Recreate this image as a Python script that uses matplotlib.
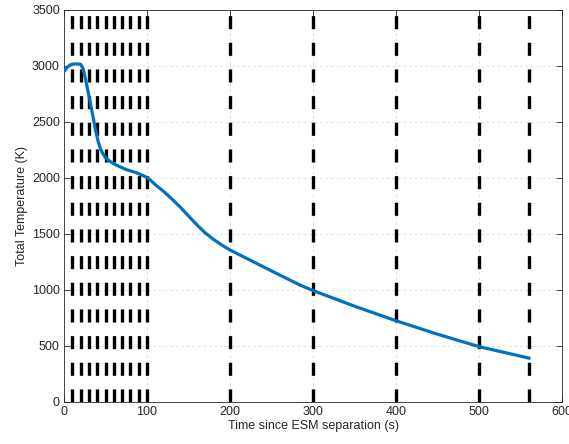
import numpy as np
import matplotlib.pyplot as plt

plt.rcParams['font.family'] = ['Liberation Sans', 'DejaVu Sans']
plt.rcParams['lines.scale_dashes'] = False

# temperature history after ESM separation
time_s = [0, 4, 8, 12, 16, 20, 23, 26, 29, 32, 35, 38, 41, 44, 47, 50, 55, 63, 75, 88, 100,
          105, 110, 120, 130, 140, 150, 160, 170, 180, 190, 200, 250, 284, 300, 350,
          400, 450, 500, 560]
temp_k = [2950, 2990, 3012, 3018, 3018, 3015, 2975, 2880, 2770, 2660, 2545, 2425, 2330,
          2260, 2215, 2180, 2150, 2115, 2075, 2045, 2005,
          1975, 1940, 1880, 1812, 1740, 1660, 1582, 1510, 1452, 1402, 1357, 1170, 1045,
          995, 855, 725, 605, 494, 392]

# event markers
event_times = [10, 20, 30, 40, 50, 60, 70, 80, 90, 100, 200, 300, 400, 500, 560]

fig = plt.figure(figsize=(5.69, 4.44), dpi=100)
ax = fig.add_axes([0.1125, 0.0946, 0.8755, 0.8829])

for t in event_times:
    ax.plot([t, t], [0, 3500], color='black', linewidth=2.4, dashes=(9.4, 9.8),
            solid_capstyle='butt', dash_capstyle='butt', zorder=2)

ax.plot(time_s, temp_k, color='#0072BD', linewidth=2.3, zorder=3,
        solid_joinstyle='round')

ax.set_xlim(0, 600)
ax.set_ylim(0, 3500)
ax.set_xticks(np.arange(0, 601, 100))
ax.set_yticks(np.arange(0, 3501, 500))
ax.grid(True, color='#dcdcdc', linestyle=(0, (2, 2)), linewidth=0.6)
ax.set_axisbelow(True)

for s in ax.spines.values():
    s.set_color('#262626')
    s.set_linewidth(0.6)
ax.tick_params(direction='in', top=True, right=True, length=4, width=0.6,
               color='#262626', labelsize=9, labelcolor='#262626', pad=3)

ax.set_xlabel('Time since ESM separation (s)', fontsize=9, color='#262626', labelpad=1)
ax.set_ylabel('Total Temperature (K)', fontsize=9, color='#262626', labelpad=3)

fig.savefig('out.png', dpi=100)
